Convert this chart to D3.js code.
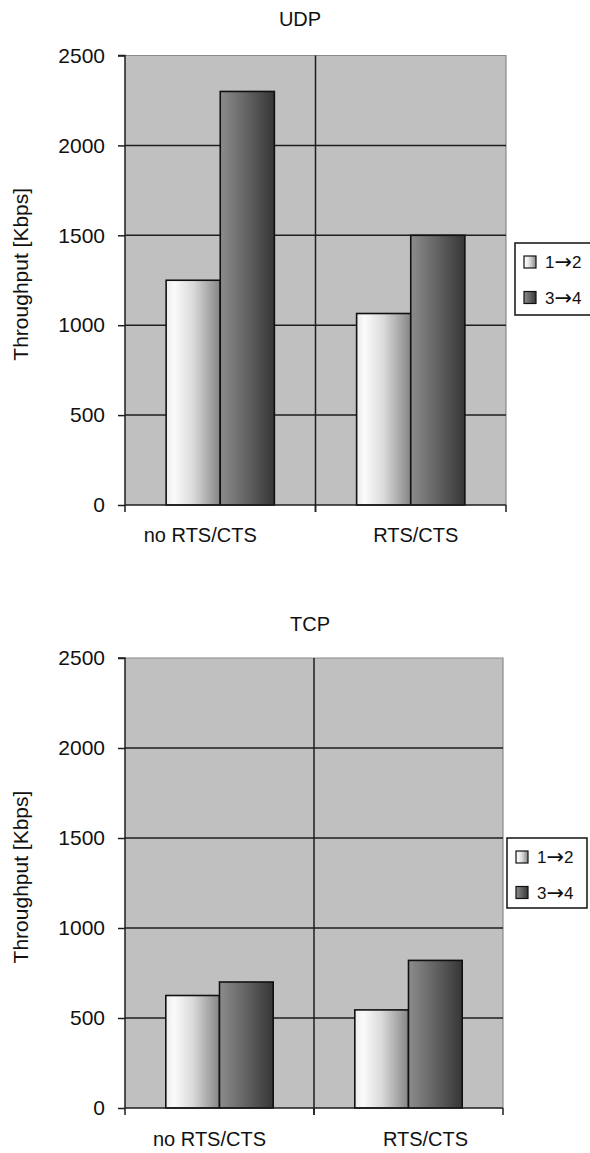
<!DOCTYPE html>
<html>
<head>
<meta charset="utf-8">
<script src="https://cdn.jsdelivr.net/npm/d3@7"></script>
<style>
html,body{margin:0;padding:0;background:#fff;}
svg{display:block;font-family:"Liberation Sans",Arial,sans-serif;}
</style>
</head>
<body>
<svg id="chart" width="590" height="1153"></svg>
<script>
// ---- data ----
const categories = ["no RTS/CTS", "RTS/CTS"];
const seriesNames = ["1→2", "3→4"];
const udpSeries12 = [1250, 1065];
const udpSeries34 = [2300, 1500];
const tcpSeries12 = [625, 545];
const tcpSeries34 = [700, 820];
const yTicks = [0, 500, 1000, 1500, 2000, 2500];
const chartTitles = ["UDP", "TCP"];
const yLabel = "Throughput [Kbps]";

// ---- layout ----
const panels = [
  {title: chartTitles[0], s1: udpSeries12, s2: udpSeries34,
   left: 125, right: 506, top: 55.5, bottom: 505, titleX: 300, titleY: 26,
   labelDx: [-20, 5], labelY: 542, legX: 515, legY: 243, legW: 82, legH: 72},
  {title: chartTitles[1], s1: tcpSeries12, s2: tcpSeries34,
   left: 125, right: 503, top: 658, bottom: 1108, titleX: 310, titleY: 631,
   labelDx: [-10, 17], labelY: 1146, legX: 507, legY: 838, legW: 80, legH: 70}
];

const svg = d3.select("#chart");
const defs = svg.append("defs");
const g1 = defs.append("linearGradient").attr("id", "gLight").attr("x1", "0").attr("x2", "1").attr("y1", "0").attr("y2", "0");
[[0, "#ececec"], [0.15, "#fbfbfb"], [0.5, "#dadada"], [1, "#858585"]].forEach(s =>
  g1.append("stop").attr("offset", s[0]).attr("stop-color", s[1]));
const g2 = defs.append("linearGradient").attr("id", "gDark").attr("x1", "0").attr("x2", "1").attr("y1", "0").attr("y2", "0");
[[0, "#8c8c8c"], [0.5, "#626262"], [1, "#363636"]].forEach(s =>
  g2.append("stop").attr("offset", s[0]).attr("stop-color", s[1]));
const fills = ["url(#gLight)", "url(#gDark)"];

panels.forEach(p => {
  const g = svg.append("g");
  const y = d3.scaleLinear().domain([0, 2500]).range([p.bottom, p.top]);
  const x0 = d3.scaleBand().domain(categories).range([p.left, p.right]).padding(0);
  const x1 = d3.scaleBand().domain(seriesNames).range([0, x0.bandwidth()])
    .paddingInner(0).paddingOuter(0.76);

  // plot background
  g.append("rect").attr("x", p.left).attr("y", p.top)
    .attr("width", p.right - p.left).attr("height", p.bottom - p.top)
    .attr("fill", "#c0c0c0");

  // top & right border (light)
  g.append("path")
    .attr("d", `M${p.left},${p.top}H${p.right}V${p.bottom}`)
    .attr("fill", "none").attr("stroke", "#8a8a8a").attr("stroke-width", 1.2);

  // horizontal grid
  g.selectAll(".hg").data(yTicks.filter(t => t > 0 && t < 2500)).enter().append("line")
    .attr("x1", p.left).attr("x2", p.right)
    .attr("y1", d => y(d)).attr("y2", d => y(d))
    .attr("stroke", "#1e1e1e").attr("stroke-width", 1.5);

  // vertical divider between categories
  g.selectAll(".vg").data(categories.slice(1)).enter().append("line")
    .attr("x1", d => x0(d)).attr("x2", d => x0(d))
    .attr("y1", p.top).attr("y2", p.bottom + 7)
    .attr("stroke", "#1e1e1e").attr("stroke-width", 1.5);

  // bars
  const rows = categories.map((c, i) => ({cat: c, vals: [p.s1[i], p.s2[i]]}));
  const cg = g.selectAll(".cat").data(rows).enter().append("g")
    .attr("transform", d => `translate(${x0(d.cat)},0)`);
  cg.selectAll("rect").data(d => d.vals.map((v, j) => ({name: seriesNames[j], v, j})))
    .enter().append("rect")
    .attr("x", d => x1(d.name))
    .attr("y", d => y(d.v))
    .attr("width", x1.bandwidth())
    .attr("height", d => y(0) - y(d.v))
    .attr("fill", d => fills[d.j])
    .attr("stroke", "#111").attr("stroke-width", 1.6);

  // left axis
  const yAxis = d3.axisLeft(y).tickValues(yTicks).tickSize(7).tickPadding(13).tickFormat(d3.format("d"));
  const ya = g.append("g").attr("transform", `translate(${p.left},0)`).call(yAxis);
  ya.select(".domain").attr("stroke", "#1e1e1e").attr("stroke-width", 1.5)
    .attr("d", `M-7,${p.top}H0V${p.bottom}`);
  ya.selectAll(".tick line").attr("stroke", "#1e1e1e").attr("stroke-width", 1.5);
  ya.selectAll(".tick text").attr("font-size", 21).attr("fill", "#111")
    .attr("font-family", "Liberation Sans, Arial, sans-serif");

  // bottom axis line + ticks
  g.append("line").attr("x1", p.left).attr("x2", p.right)
    .attr("y1", y(0)).attr("y2", y(0)).attr("stroke", "#1e1e1e").attr("stroke-width", 1.6);
  const edges = [p.left, ...categories.slice(1).map(c => x0(c)), p.right];
  g.selectAll(".xt").data(edges).enter().append("line")
    .attr("x1", d => d).attr("x2", d => d)
    .attr("y1", y(0)).attr("y2", y(0) + 7)
    .attr("stroke", "#1e1e1e").attr("stroke-width", 1.5);

  // category labels
  g.selectAll(".cl").data(categories).enter().append("text")
    .attr("x", (d, i) => x0(d) + x0.bandwidth() / 2 + p.labelDx[i])
    .attr("y", p.labelY)
    .attr("text-anchor", "middle").attr("font-size", 20).attr("fill", "#111")
    .text(d => d);

  // title
  g.append("text").attr("x", p.titleX).attr("y", p.titleY)
    .attr("text-anchor", "middle").attr("font-size", 20).attr("fill", "#111")
    .text(p.title);

  // y label
  g.append("text")
    .attr("transform", `translate(28,${(p.top + p.bottom) / 2 - 6}) rotate(-90)`)
    .attr("text-anchor", "middle").attr("font-size", 21).attr("fill", "#111")
    .text(yLabel);

  // legend
  const lg = g.append("g").attr("transform", `translate(${p.legX},${p.legY})`);
  lg.append("rect").attr("x", 0).attr("y", 0).attr("width", p.legW).attr("height", p.legH)
    .attr("fill", "#fff").attr("stroke", "#111").attr("stroke-width", 1.5);
  const li = lg.selectAll(".li").data(seriesNames).enter().append("g")
    .attr("transform", (d, i) => `translate(9,${19 + i * 35.5})`);
  li.append("rect").attr("x", 0).attr("y", -6).attr("width", 12).attr("height", 12)
    .attr("fill", (d, i) => fills[i]).attr("stroke", "#111").attr("stroke-width", 1.2);
  const lt = li.append("text").attr("x", 21).attr("y", 6).attr("font-size", 17).attr("fill", "#111");
  lt.each(function (d) {
    const t = d3.select(this);
    const parts = d.split("→");
    t.append("tspan").text(parts[0]);
    t.append("tspan").attr("font-family", "DejaVu Sans").attr("font-size", 21).attr("dy", 1).text("→");
    t.append("tspan").attr("dy", -1).text(parts[1]);
  });
});
</script>
</body>
</html>
